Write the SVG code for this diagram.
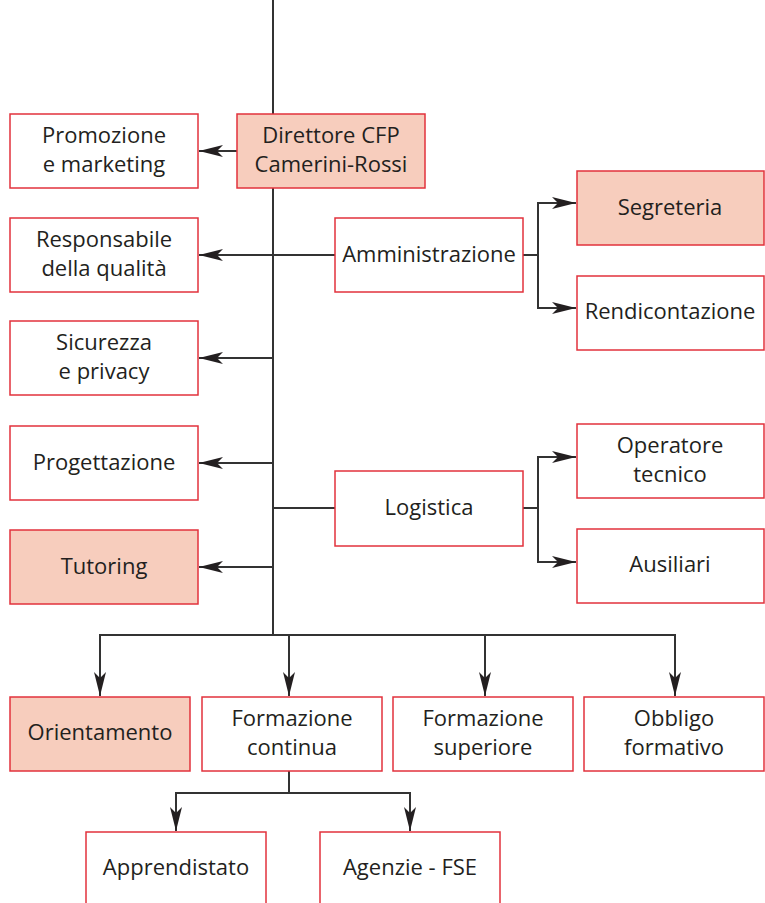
<svg xmlns="http://www.w3.org/2000/svg" width="765" height="903" viewBox="0 0 765 903">
<style>
.b{fill:#fff;stroke:#e2323c;stroke-width:1.5}
.f{fill:#f7cdbd}
text{font-family:"Open Sans","Noto Sans",sans-serif;font-size:22px;fill:#231f20;text-anchor:middle}
.c line,.c path{stroke:#333;stroke-width:2;fill:none}
</style>
<defs>
<marker id="a" viewBox="0 0 24 12" refX="24" refY="6" markerWidth="24" markerHeight="12" markerUnits="userSpaceOnUse" orient="auto">
<path d="M0,0 L24,6 L0,12 L6,6 Z" fill="#231f20"/>
</marker>
</defs>
<g class="c" id="connectors">
<line x1="273" y1="0" x2="273" y2="114"/>
<line x1="273" y1="188" x2="273" y2="635"/>
<line x1="237" y1="151" x2="199" y2="151" marker-end="url(#a)"/>
<line x1="335" y1="255" x2="199" y2="255" marker-end="url(#a)"/>
<line x1="273" y1="358" x2="199" y2="358" marker-end="url(#a)"/>
<line x1="273" y1="463" x2="199" y2="463" marker-end="url(#a)"/>
<line x1="273" y1="567" x2="199" y2="567" marker-end="url(#a)"/>
<line x1="273" y1="508" x2="335" y2="508"/>
<path d="M523,255 H538 V203 H576" marker-end="url(#a)"/>
<path d="M538,255 V308 H576" marker-end="url(#a)"/>
<path d="M523,508 H538 V457 H576" marker-end="url(#a)"/>
<path d="M538,508 V562 H576" marker-end="url(#a)"/>
<line x1="99" y1="635" x2="676" y2="635"/>
<line x1="100" y1="634" x2="100" y2="696" marker-end="url(#a)"/>
<line x1="289" y1="634" x2="289" y2="696" marker-end="url(#a)"/>
<line x1="485" y1="634" x2="485" y2="696" marker-end="url(#a)"/>
<line x1="675" y1="634" x2="675" y2="696" marker-end="url(#a)"/>
<line x1="289" y1="771" x2="289" y2="793"/>
<path d="M176,831 V793 H410 V831" />
<line x1="176" y1="794" x2="176" y2="831" marker-end="url(#a)"/>
<line x1="410" y1="794" x2="410" y2="831" marker-end="url(#a)"/>
</g>
<g id="direttore"><rect class="b f" x="237" y="114" width="188" height="74"/><text x="331" y="143">Direttore CFP</text><text x="331" y="172">Camerini-Rossi</text></g>
<g id="promozione"><rect class="b" x="10" y="114" width="188" height="74"/><text x="104" y="143">Promozione</text><text x="104" y="172">e marketing</text></g>
<g id="responsabile"><rect class="b" x="10" y="218" width="188" height="74"/><text x="104" y="247">Responsabile</text><text x="104" y="276">della qualità</text></g>
<g id="sicurezza"><rect class="b" x="10" y="321" width="188" height="74"/><text x="104" y="350">Sicurezza</text><text x="104" y="379">e privacy</text></g>
<g id="progettazione"><rect class="b" x="10" y="426" width="188" height="74"/><text x="104" y="470">Progettazione</text></g>
<g id="tutoring"><rect class="b f" x="10" y="530" width="188" height="74"/><text x="104" y="574">Tutoring</text></g>
<g id="amministrazione"><rect class="b" x="335" y="218" width="188" height="74"/><text x="429" y="262">Amministrazione</text></g>
<g id="segreteria"><rect class="b f" x="577" y="171" width="187" height="74"/><text x="670" y="215">Segreteria</text></g>
<g id="rendicontazione"><rect class="b" x="577" y="276" width="187" height="74"/><text x="670" y="319">Rendicontazione</text></g>
<g id="logistica"><rect class="b" x="335" y="471" width="188" height="75"/><text x="429" y="515">Logistica</text></g>
<g id="operatore"><rect class="b" x="577" y="424" width="187" height="74"/><text x="670" y="453">Operatore</text><text x="670" y="482">tecnico</text></g>
<g id="ausiliari"><rect class="b" x="577" y="529" width="187" height="74"/><text x="670" y="572">Ausiliari</text></g>
<g id="orientamento"><rect class="b f" x="10" y="697" width="180" height="74"/><text x="100" y="740">Orientamento</text></g>
<g id="formazione-continua"><rect class="b" x="202" y="697" width="180" height="74"/><text x="292" y="726">Formazione</text><text x="292" y="755">continua</text></g>
<g id="formazione-superiore"><rect class="b" x="393" y="697" width="180" height="74"/><text x="483" y="726">Formazione</text><text x="483" y="755">superiore</text></g>
<g id="obbligo"><rect class="b" x="584" y="697" width="180" height="74"/><text x="674" y="726">Obbligo</text><text x="674" y="755">formativo</text></g>
<g id="apprendistato"><rect class="b" x="86" y="832" width="180" height="80"/><text x="176" y="875">Apprendistato</text></g>
<g id="agenzie"><rect class="b" x="320" y="832" width="180" height="80"/><text x="410" y="875">Agenzie - FSE</text></g>
</svg>
